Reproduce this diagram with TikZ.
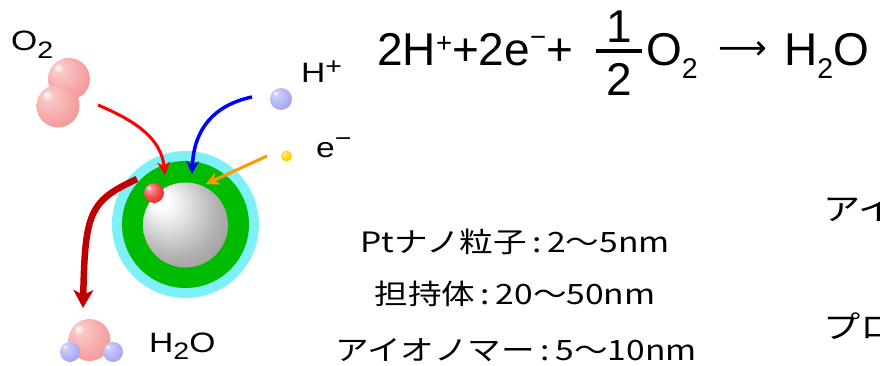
\documentclass[tikz,border=0pt]{standalone}
\usepackage{graphicx}
\usepackage{fontspec}
\setmainfont{Liberation Sans}
\newfontfamily\jpfont{Noto Sans CJK JP}
\newfontfamily\symfont{DejaVu Sans}
\usetikzlibrary{arrows.meta}

% particle colours
\definecolor{pinkbody}{RGB}{246,162,162}
\definecolor{pinkedge}{RGB}{234,128,128}
\definecolor{bluebody}{RGB}{172,172,245}
\definecolor{blueedge}{RGB}{130,130,228}
\definecolor{redbody}{RGB}{240,60,60}
\definecolor{rededge}{RGB}{205,15,15}
\definecolor{yelbody}{RGB}{255,212,0}
\definecolor{yeledge}{RGB}{240,185,0}
\definecolor{ionomer}{RGB}{128,240,248}
\definecolor{carbon}{RGB}{0,188,0}
\definecolor{arrorange}{RGB}{255,153,0}
\definecolor{arrdark}{RGB}{192,0,0}

\pgfdeclareradialshading{pinkball}{\pgfpoint{-14bp}{14bp}}{color(0bp)=(white); color(6bp)=(pinkbody!60!white); color(26bp)=(pinkbody); color(50bp)=(pinkedge)}
\pgfdeclareradialshading{blueball}{\pgfpoint{-14bp}{14bp}}{color(0bp)=(white); color(6bp)=(bluebody!60!white); color(26bp)=(bluebody); color(50bp)=(blueedge)}
\pgfdeclareradialshading{redball}{\pgfpoint{-14bp}{14bp}}{color(0bp)=(white); color(6bp)=(redbody!55!white); color(24bp)=(redbody); color(50bp)=(rededge)}
\pgfdeclareradialshading{yelball}{\pgfpoint{-12bp}{12bp}}{color(0bp)=(yelbody!40!white); color(20bp)=(yelbody); color(50bp)=(yeledge)}
\pgfdeclareradialshading{ptball}{\pgfpoint{-16bp}{16bp}}{color(0bp)=(white); color(5bp)=(white); color(26bp)=(black!30); color(50bp)=(black!52)}

% raised / lowered characters for chemical formulae
\newcommand\chup[3][0.6]{\raisebox{#2}{\scalebox{#1}{#3}}}
\newcommand\chdn[2][0.62]{\raisebox{-0.28em}{\scalebox{#1}{#2}}}
% horizontally widened text
\newcommand\wide[1]{\scalebox{1.2}[1]{#1}}

\tikzset{
  ball/.style={circle, inner sep=0pt, minimum size=#1, draw=none},
  lbl/.style={inner sep=0pt, anchor=base west, font=\fontsize{28}{30}\selectfont},
  eq/.style={inner sep=0pt, anchor=base west, font=\fontsize{46}{50}\selectfont},
  spec/.style={inner sep=0pt, anchor=base, font=\jpfont\fontsize{28}{30}\selectfont},
  bigjp/.style={inner sep=0pt, anchor=base west, font=\jpfont\fontsize{31}{34}\selectfont},
  thinflow/.style={line width=3pt, -{Stealth[length=13pt,width=13pt,inset=4pt]}},
  thickflow/.style={line width=6.5pt, arrdark, -{Stealth[length=18pt,width=20pt,inset=5pt]}},
}

\begin{document}
\begin{tikzpicture}[x=1pt,y=-1pt]
\useasboundingbox (0,0) rectangle (880,366);
\clip (0,0) rectangle (880,366);

% catalyst particle: ionomer film, carbon support, Pt nanoparticle
\node[ball=147pt, fill=ionomer] (film) at (185.5,224.5) {};
\node[ball=127pt, fill=carbon] (support) at (185.5,224.5) {};
\node[ball=85pt, shade, shading=ptball] (pt) at (185.5,225) {};
\node[ball=20pt, shade, shading=redball] (site) at (154,193) {};

% reactants
\node[ball=42pt, shade, shading=pinkball] (o2a) at (69,79) {};
\node[ball=43pt, shade, shading=pinkball] (o2b) at (58,106) {};
\node[ball=22pt, shade, shading=blueball] (hp) at (281,99) {};
\node[ball=11pt, shade, shading=yelball] (el) at (286.5,156) {};

% product water
\node[ball=42pt, shade, shading=pinkball] (wo) at (89.5,340) {};
\node[ball=20pt, shade, shading=blueball] (wh1) at (70,352) {};
\node[ball=20pt, shade, shading=blueball] (wh2) at (113,352) {};

% labels of the species
\node[lbl] (o2lbl) at (11,51) {\wide{O\chdn[0.85]{2}}};
\node[lbl] (hplbl) at (301,83) {\wide{H\chup[0.85]{0.3em}{+}}};
\node[lbl] (ellbl) at (316,158) {\wide{e\chup[0.85]{0.4em}{−}}};
\node[lbl] (wlbl) at (149,352) {\wide{H\chdn[0.85]{2}O}};

% flow arrows
\coordinate (o2from) at (98,105);
\coordinate (o2to) at (165,175);
\coordinate (hpfrom) at (252,97);
\coordinate (hpto) at (192,174);
\coordinate (elfrom) at (267,156);
\coordinate (elto) at (206,184);
\coordinate (wfrom) at (137,179);
\coordinate (wto) at (83,308);
\draw[thinflow, red] (o2from) .. controls +(35,15) and +(-4,-38) .. (o2to);
\draw[thinflow, blue, line width=3.5pt] (hpfrom) .. controls +(-38,8) and +(2,-45) .. (hpto);
\draw[thinflow, arrorange] (elfrom) -- (elto);
\draw[thickflow] (wfrom) .. controls +(-48,22) and +(2,-95) .. (wto);

% overall reaction
\node[eq] (eqa) at (377,66) {2H\chup{0.3em}{+}+2e\chup{0.42em}{−}+};
\node[eq, anchor=base] (eqnum) at (619,43) {1};
\node[eq, anchor=base] (eqden) at (619,96) {2};
\draw[line width=3.5pt] (eqnum.center |- 0,51) coordinate (barmid) +(-23,0) -- +(23,0);
\node[eq] (eqo) at (646,66) {O\chdn{2}};
\node[inner sep=0pt, anchor=base west, font=\symfont\fontsize{34}{36}\selectfont] (eqarr) at (718,60) {⟶};
\node[eq] (eqw) at (784,66) {H\chdn{2}O};

% typical dimensions
\node[spec] (d1) at (515,252) {\wide{Ptナノ粒子\,:\,2〜5nm}};
\node[spec] (d2) at (515,304) {\wide{担持体\,:\,20〜50nm}};
\node[spec] (d3) at (516,360) {\wide{アイオノマー\,:\,5〜10nm}};

% side captions, running past the right edge
\node[bigjp] (c1) at (823,220) {\wide{アイ}};
\node[bigjp] (c2) at (823,338) {\wide{プロ}};
\end{tikzpicture}
\end{document}
